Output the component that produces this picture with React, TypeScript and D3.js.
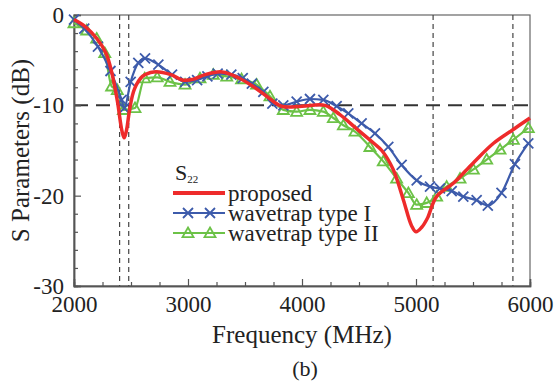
import { useEffect, useRef } from 'react'
import * as d3 from 'd3'

const xTicks = [2000, 3000, 4000, 5000, 6000]
const yTicks = [0, -10, -20, -30]
const bandEdges = [2400, 2480, 5150, 5850]
const threshold = -10

const proposedFreq = [2000, 2100, 2200, 2280, 2330, 2380, 2420, 2440, 2460, 2490, 2530, 2600, 2700, 2850, 2950, 3050, 3150, 3300, 3450, 3570, 3690, 3820, 4000, 4200, 4330, 4480, 4630, 4700, 4800, 4890, 4960, 5000, 5050, 5100, 5180, 5330, 5500, 5680, 5850, 6000]
const proposedS22 = [-0.5, -1.3, -2.6, -4.2, -6.3, -9.5, -12.8, -13.6, -12.8, -10.3, -8.2, -6.8, -6.3, -6.6, -7.2, -7.1, -6.6, -6.3, -7.0, -7.9, -9.0, -10.1, -10.1, -10.0, -11.0, -12.6, -14.2, -15.0, -17.1, -20.5, -23.3, -24.0, -23.5, -22.5, -20.1, -18.6, -16.4, -14.2, -12.7, -11.4]

const typeIFreq = [2000, 2090, 2210, 2320, 2418, 2441, 2497, 2564, 2623, 2740, 2860, 2975, 3080, 3170, 3260, 3380, 3480, 3560, 3661, 3740, 3836, 3953, 4070, 4187, 4304, 4406, 4523, 4640, 4757, 4874, 5006, 5123, 5210, 5313, 5415, 5532, 5630, 5750, 5868, 5985]
const typeIS22 = [-0.5, -1.5, -3.5, -6.2, -9.4, -10.3, -7.4, -5.3, -4.8, -5.5, -6.6, -7.4, -7.2, -6.8, -6.5, -6.6, -7.0, -7.6, -8.5, -9.8, -10.0, -9.6, -9.3, -9.4, -10.1, -10.9, -12.0, -13.1, -14.6, -16.6, -18.3, -19.0, -19.2, -19.5, -20.1, -20.5, -21.1, -19.7, -16.5, -14.2]

const typeIIFreq = [2000, 2111, 2199, 2270, 2330, 2380, 2433, 2535, 2620, 2730, 2842, 2974, 3105, 3222, 3340, 3470, 3602, 3719, 3836, 3953, 4070, 4187, 4275, 4363, 4465, 4596, 4713, 4830, 4933, 5006, 5094, 5181, 5269, 5386, 5503, 5620, 5737, 5854, 5985]
const typeIIS22 = [-0.9, -1.7, -2.6, -4.2, -7.9, -8.3, -10.5, -10.3, -7.0, -6.9, -7.4, -7.7, -7.0, -6.6, -6.8, -7.1, -7.7, -9.0, -10.5, -10.7, -10.5, -10.7, -11.4, -12.2, -12.9, -14.6, -16.2, -18.1, -19.7, -21.0, -20.8, -20.1, -19.0, -18.1, -17.1, -16.0, -14.9, -13.8, -12.5]

const RED = '#ee2b2b'
const BLUE = '#3d5bab'
const GREEN = '#6cc247'
const FONT = "'Liberation Serif', 'DejaVu Serif', serif"

export default function App() {
  const svgRef = useRef<SVGSVGElement>(null)

  useEffect(() => {
    if (!svgRef.current) return
    const svg = d3.select(svgRef.current)
    svg.selectAll('*').remove()

    const width = 557
    const height = 386
    const margin = { top: 15, right: 27, bottom: 100, left: 74 }
    const innerWidth = width - margin.left - margin.right
    const innerHeight = height - margin.top - margin.bottom

    svg.attr('width', width).attr('height', height)
    svg.append('rect').attr('width', width).attr('height', height).attr('fill', '#fff')

    const g = svg.append('g').attr('transform', `translate(${margin.left},${margin.top})`)

    const x = d3.scaleLinear().domain([2000, 6000]).range([0, innerWidth])
    const y = d3.scaleLinear().domain([-30, 0]).range([innerHeight, 0])

    // frame
    g.append('rect')
      .attr('width', innerWidth)
      .attr('height', innerHeight)
      .attr('fill', 'none')
      .attr('stroke', '#666')
      .attr('stroke-width', 1.2)

    // reference lines
    bandEdges.forEach(f => {
      g.append('line')
        .attr('x1', x(f)).attr('x2', x(f))
        .attr('y1', 0).attr('y2', innerHeight)
        .attr('stroke', '#444')
        .attr('stroke-width', 1.2)
        .attr('stroke-dasharray', '5,4')
    })
    g.append('line')
      .attr('x1', 0).attr('x2', innerWidth)
      .attr('y1', y(threshold)).attr('y2', y(threshold))
      .attr('stroke', '#333')
      .attr('stroke-width', 2)
      .attr('stroke-dasharray', '14,8')

    // axes
    const styleAxis = (sel: any) => {
      sel.attr('font-family', null).attr('font-size', null)
      sel.select('.domain').attr('stroke', '#555').attr('stroke-width', 1.5)
      sel.selectAll('.tick line').attr('stroke', '#555').attr('stroke-width', 1.2)
      sel.selectAll('text').attr('font-family', FONT).attr('font-size', 23).attr('fill', '#222')
    }

    const minorX = d3.range(2000, 6001, 250).filter(v => !xTicks.includes(v))
    const minorY = d3.range(-30, 1, 2).filter(v => !yTicks.includes(v))

    g.append('g')
      .attr('transform', `translate(0,${innerHeight})`)
      .call(d3.axisBottom(x).tickValues(minorX).tickSize(-4).tickFormat(() => ''))
      .call(styleAxis)
    g.append('g')
      .attr('transform', `translate(0,${innerHeight})`)
      .call(d3.axisBottom(x).tickValues(xTicks).tickSize(-7).tickPadding(10).tickFormat(d3.format('d')))
      .call(styleAxis)

    g.append('g')
      .call(d3.axisLeft(y).tickValues(minorY).tickSize(-4).tickFormat(() => ''))
      .call(styleAxis)
    g.append('g')
      .call(d3.axisLeft(y).tickValues(yTicks).tickSize(-7).tickPadding(10).tickFormat(d => String(d)))
      .call(styleAxis)

    // series
    const plot = g.append('g')

    const drawLine = (fs: number[], vs: number[], color: string, w: number, curve: any) => {
      const pts = fs.map((f, i) => [f, vs[i]] as [number, number])
      plot.append('path')
        .datum(pts)
        .attr('fill', 'none')
        .attr('stroke', color)
        .attr('stroke-width', w)
        .attr('stroke-linejoin', 'round')
        .attr('d', d3.line<[number, number]>().x(d => x(d[0])).y(d => y(d[1])).curve(curve))
    }

    const cross = (sel: any, cx: number, cy: number) => {
      const s = 5
      sel.append('path')
        .attr('d', `M${cx - s},${cy - s}L${cx + s},${cy + s}M${cx - s},${cy + s}L${cx + s},${cy - s}`)
        .attr('stroke', BLUE)
        .attr('stroke-width', 1.8)
        .attr('fill', 'none')
    }
    const tri = (sel: any, cx: number, cy: number) => {
      const s = 5.5
      sel.append('path')
        .attr('d', `M${cx},${cy - s}L${cx + s},${cy + s * 0.75}L${cx - s},${cy + s * 0.75}Z`)
        .attr('stroke', GREEN)
        .attr('stroke-width', 1.8)
        .attr('fill', 'none')
    }

    drawLine(typeIIFreq, typeIIS22, GREEN, 2.2, d3.curveMonotoneX)
    typeIIFreq.forEach((f, i) => tri(plot, x(f), y(typeIIS22[i])))

    drawLine(typeIFreq, typeIS22, BLUE, 2.2, d3.curveMonotoneX)
    typeIFreq.forEach((f, i) => cross(plot, x(f), y(typeIS22[i])))

    drawLine(proposedFreq, proposedS22, RED, 3.5, d3.curveCatmullRom.alpha(0.5))

    // legend
    const lg = svg.append('g').attr('transform', 'translate(173,0)')
    const s22 = lg.append('text')
      .attr('x', 2).attr('y', 180)
      .attr('font-family', FONT).attr('font-size', 22).attr('fill', '#222')
    s22.append('tspan').text('S')
    s22.append('tspan').attr('dy', 3).attr('font-size', 11).text('22')

    const items = [
      { label: 'proposed', color: RED, w: 4, marker: null as any, yy: 193 },
      { label: 'wavetrap type I', color: BLUE, w: 2.2, marker: cross, yy: 213 },
      { label: 'wavetrap type II', color: GREEN, w: 2.2, marker: tri, yy: 233 },
    ]
    items.forEach(it => {
      lg.append('line')
        .attr('x1', 0).attr('x2', 52)
        .attr('y1', it.yy).attr('y2', it.yy)
        .attr('stroke', it.color).attr('stroke-width', it.w)
      if (it.marker) {
        it.marker(lg, 15, it.yy)
        it.marker(lg, 37, it.yy)
      }
      lg.append('text')
        .attr('x', 55).attr('y', it.yy)
        .attr('dy', '0.35em')
        .attr('font-family', FONT).attr('font-size', 23).attr('fill', '#222')
        .text(it.label)
    })

    // titles
    svg.append('text')
      .attr('x', margin.left + innerWidth / 2).attr('y', 343)
      .attr('text-anchor', 'middle')
      .attr('font-family', FONT).attr('font-size', 25).attr('fill', '#222')
      .text('Frequency (MHz)')
    svg.append('text')
      .attr('transform', `translate(29,${margin.top + innerHeight / 2}) rotate(-90)`)
      .attr('text-anchor', 'middle')
      .attr('font-family', FONT).attr('font-size', 25).attr('fill', '#222')
      .text('S Parameters (dB)')
    svg.append('text')
      .attr('x', 305).attr('y', 376)
      .attr('text-anchor', 'middle')
      .attr('font-family', FONT).attr('font-size', 22).attr('fill', '#222')
      .text('(b)')
  }, [])

  return <svg ref={svgRef} style={{ position: 'absolute', left: 0, top: 0, display: 'block' }} />
}
